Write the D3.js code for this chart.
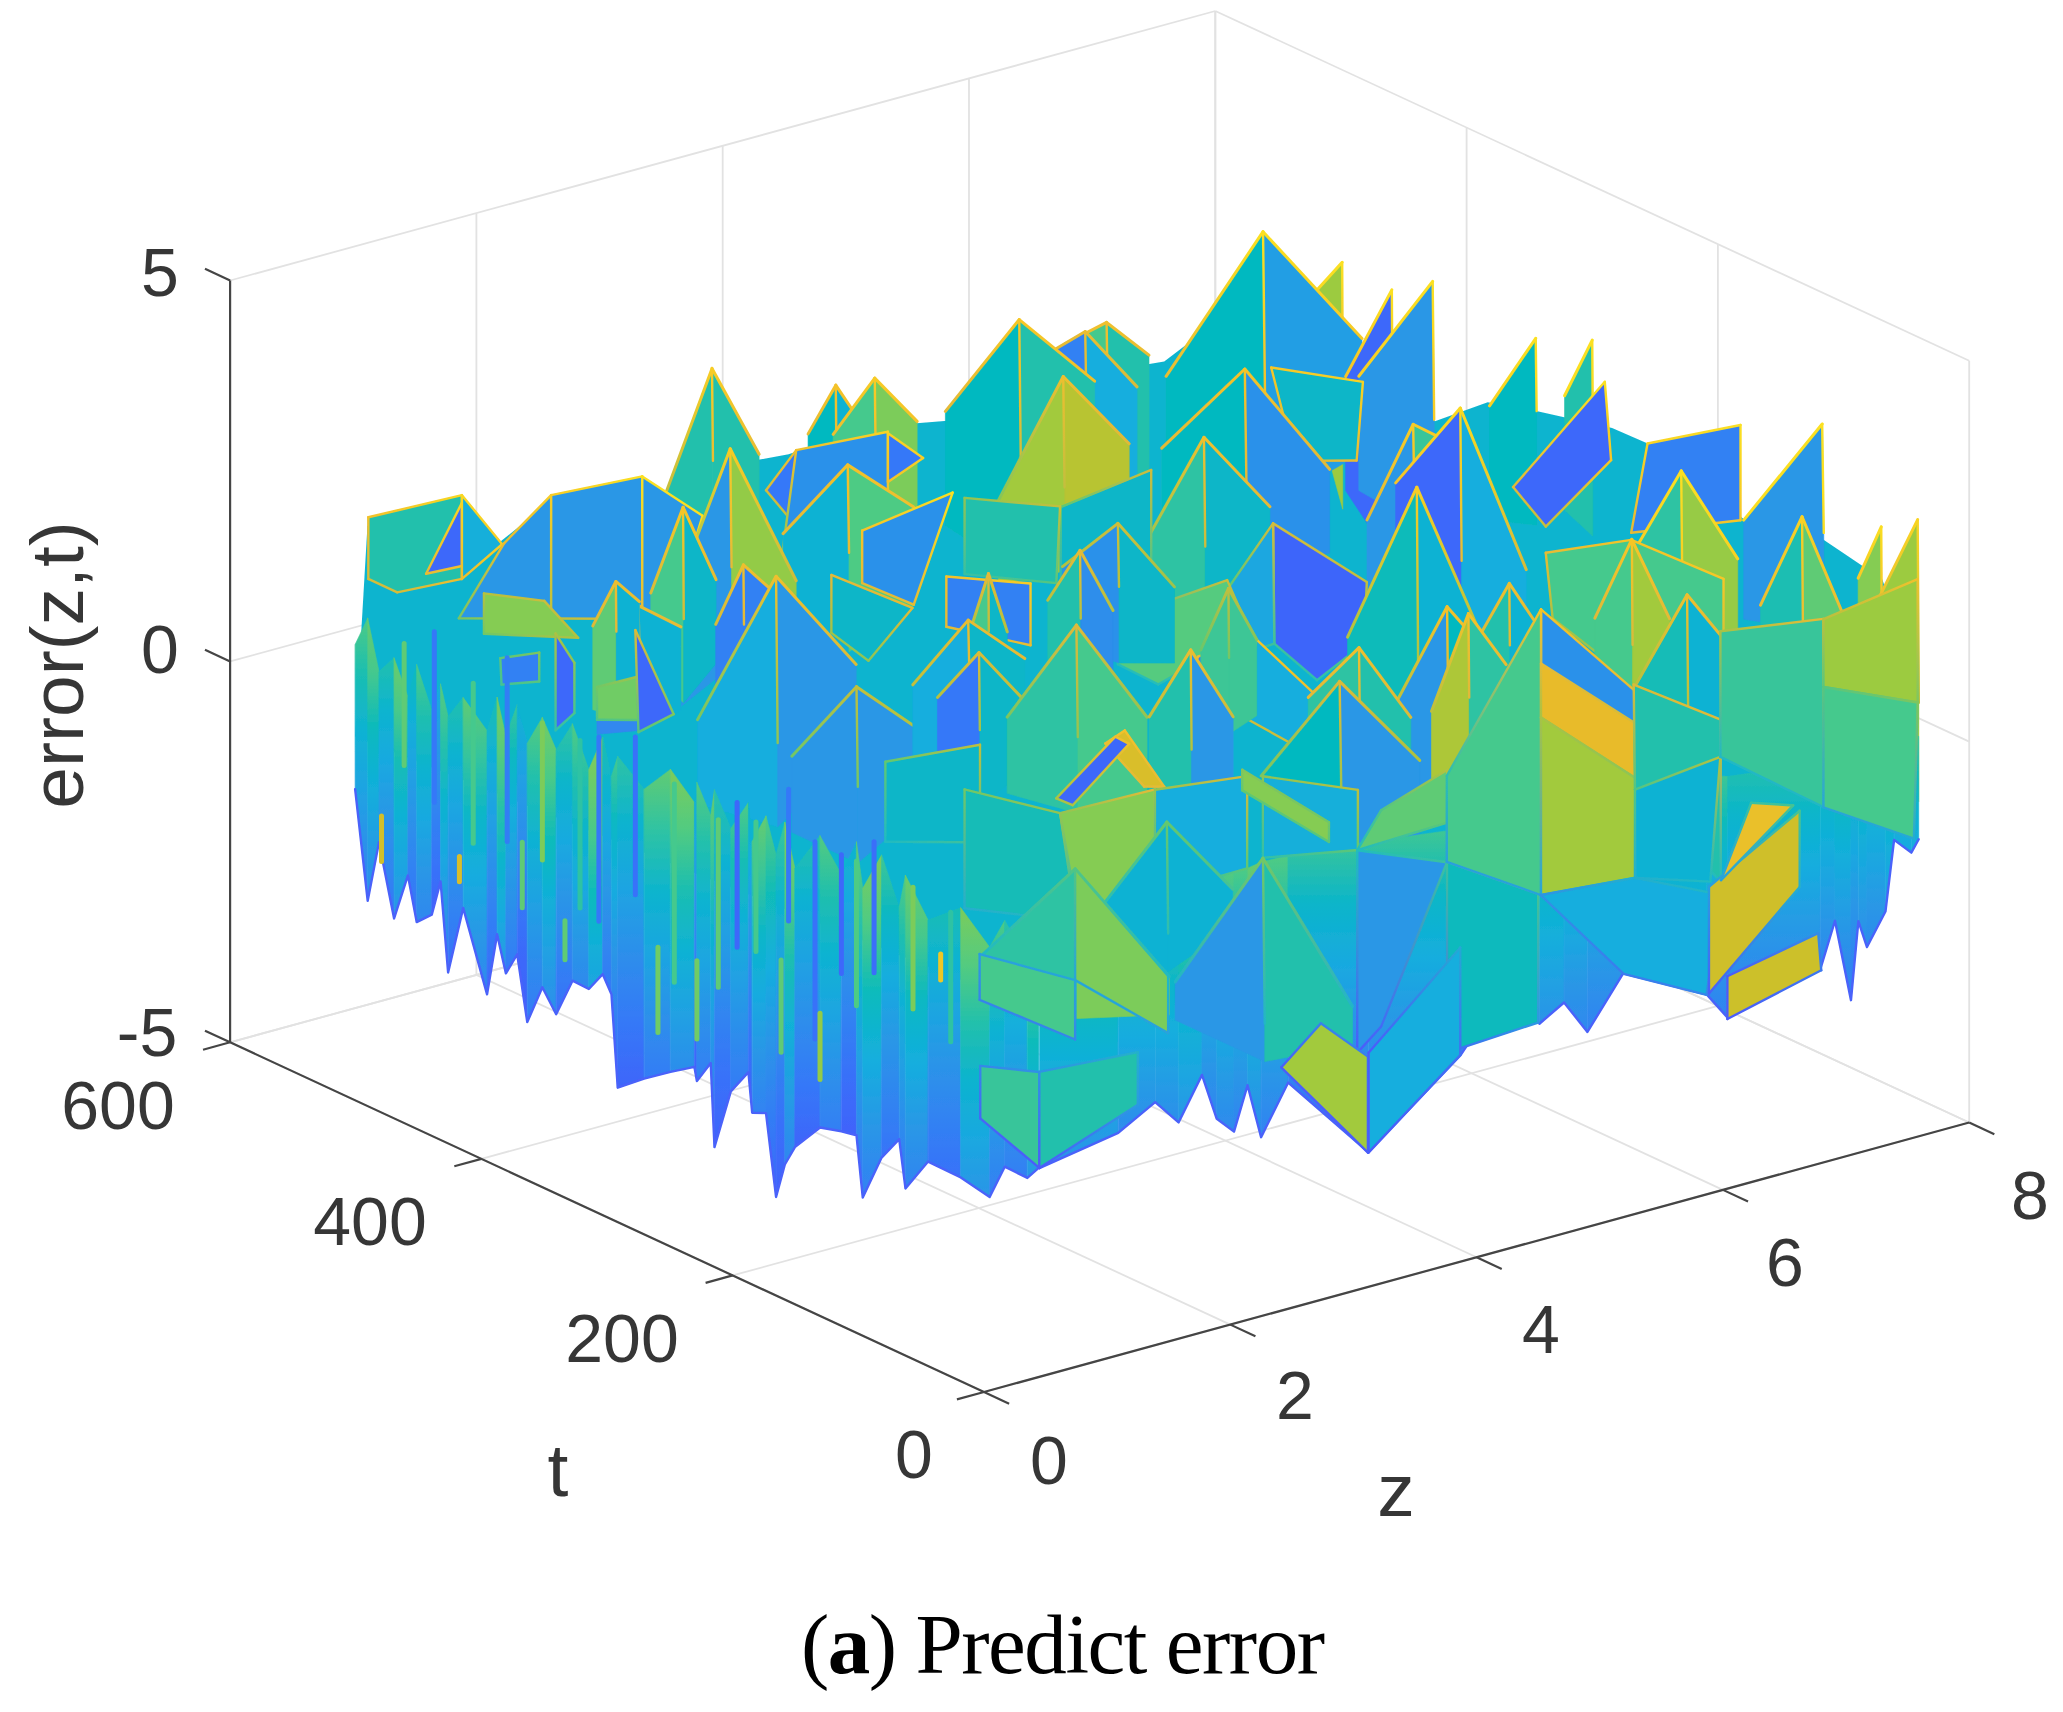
<!DOCTYPE html>
<html><head><meta charset="utf-8"><style>html,body{margin:0;background:#fff}svg{display:block}</style>
<script src="https://cdnjs.cloudflare.com/ajax/libs/d3/7.8.5/d3.min.js"></script></head><body><div id="c"></div>
<script>
// axis content
const zTicks=[0,2,4,6,8], tTicks=[0,200,400,600], eTicks=[-5,0,5];
const zLabels=["0","2","4","6","8"], tLabels=["0","200","400","600"], eLabels=["-5","0","5"];
const axisTitles={z:"z",t:"t",e:"error(z,t)"};
// peaks: [z, t, eApex, eLeft, eRight, eFront, span, colourLeft, colourRight] (colour -1: face not visible)
// panels: [z, colour, [t,e, t,e, ...]]
const coreBackLeft=[[.85,1.6],[1.6,1.52],[1.92,.91],[2.35,1.28],[3.1,1.21],[3.47,.7],[4,1.07],[4.27,1.03],[4.91,1.1],[5.56,.9],[6.14,1.5],[6.73,1],[7.32,.9],[7.6,1.12]];
const coreBackRight=[[522,2.72],[449,1.95],[386,1.43],[344,2],[308,2.17],[245,2.42],[198,2.44],[140,2.02],[77,2.24],[30,2.08],[1,.92]];
const rearPeaks=[
[6.75,564,1.74,1.61,1.57,1.46,.45,.5,.42],[6.75,581,1.49,1.28,1.08,1.16,.55,.13,.27],[6,560,2.14,1.2,1.79,1.02,.8,.35,.42],
[7.5,450,3.07,2.77,2.53,1.6,.3,.67,-1],[7.5,513,2.99,1.44,2.19,1.8,1.05,.35,.22],[7.5,410.5,3.01,2.04,1.5,1.39,.5,.05,-1],
[7.5,378,3.37,2.39,2.2,2.28,.8,.2,-1],[7.5,296,3.25,2.53,2.6,2.75,.5,.35,-1],[7.5,251,3.57,2.94,2.7,2.77,.3,.42,-1],
[4.5,559,1.95,1.41,1.57,1.41,.3,.35,.3],[4.5,528,2.28,1.69,1.97,1.77,.45,.5,.6],[3.75,584,2.31,.84,1.47,1.55,.5,.42,.42]];
const rearPanels=[
[7.5,.05,[314,1.16,241,3.10,236,2.11,288,.84]],[7.5,.13,[207,2.55,133,3.36,133,2.11,220,1.28]],
[3.75,.1,[541,1.04,517,1.75,517,.75]],[3.75,.18,[517,1.75,444,2.55,444,1.31,528,.32]],[3.75,.1,[444,2.53,416,2.42,444,1.89]],
[.75,.42,[563.5,1.84,489,2.70,489,1.60,540.5,1.03,563.5,1.03]],[.75,.05,[517.5,1.45,489,2.60,489,1.77]],[.75,.28,[489,2.70,457,2.30,489,1.60]],
[1.5,.2,[529,1.43,491.5,2.35,491.5,.73,565,.17]],[1.5,.2,[491.5,2.35,419,3.15,419,1.28,491.5,.73]],[1.5,.2,[419,3.15,371,3.0,396,1.46,419,1.28]]];
const midPeaks=[
[7.5,68,3.87,2.89,3.0,3.21,.85,.2,-1],[6.75,106.7,3.29,2.25,2.48,2.24,.6,.45,.66],[7.5,21,2.88,2.29,1.9,1.94,.25,.62,-1],
[8,41,2.6,1.33,.8,.74,.6,.67,-1],[7.5,84,2.53,1.52,1.46,1.44,.45,.4,.55],[3.75,476,1.87,1.20,1.72,1.35,.7,.3,.52],[3,496,2.26,.25,.93,1.34,.7,.2,.65]];
const midPanels=[
[6.75,.33,[433,2.15,360,2.52,365,1.45,414,1.07]],[6.75,.5,[214.5,1.39,146.4,2.08,73,2.13,73,.74,141,.22,209,.57]],
[3,.18,[391,1.99,319,3.04,350,1.33,391,1.30]],[1.5,.62,[545,.65,497,.92,470,.64,545,.12]],[1.5,.13,[532,-.1,501,.21,501,-.17,531,-.44]]];
const ridgePeaks=[
[6.75,454,1.97,1.23,1.17,1.23,.9,.35,.18],[6,525,1.66,.27,1.18,.84,.7,.68,.72],[6,413,1.72,.43,1.21,.92,.7,.45,.33],
[6.75,320,2.27,1.18,2.25,1.95,.5,.2,.47],[6.75,282.5,2.77,2.02,1.05,1.40,.7,.05,.27],[2.25,460,2.10,1.09,1.35,.95,.35,.5,.33],
[1.5,422,1.43,.99,1.41,1.30,.45,.15,.3],[1.5,440,1.61,1.11,1.49,1.18,.25,.55,.3],[2.25,412,1.71,1.03,1.55,1.20,.3,.13,.13],[2.25,386,1.76,.16,1.09,.34,.85,.27,.2]];
const ridgePanels=[
[6,.33,[527,-.07,455,.97,455,-.29,527,-1.19]],[5.25,.42,[530,.36,454,.83,457,-.2,530,-.64]],
[6,.04,[358,1.01,283.4,.81,285.5,-.01,323,-.78,357,-.56]],[6,.25,[358,1.01,393,-.09,392,-1.02,357,-.56]],
[5.25,.53,[411,-.33,321,.88,303,.34,376,-.91,408,-.89]],[3,.33,[415.5,1.22,351,1.28,386,.32,415.5,.46]],[3,.13,[324,1.90,257,2.32,257,1.51,324,1.24]],
[1.5,.58,[455,.11,422,.5,422,-.07,455,-.32]],[1.5,.05,[424.5,1.09,394,.22,422,-.23]],[1.5,.05,[488,.56,473,.29,473,-.37,488,-.71]],
[3.75,.12,[197,1.49,151,2.07,163,.95,229,.19]],[3.75,.27,[151,2.07,105,1.71,114,.9,161,.97]]];
const innerPeaks=[
[5.25,408,.96,.59,.47,.67,.6,.18,.33],[4.5,364.6,1.27,.73,.68,.69,.35,.42,.17],[3.75,364,1.3,.61,.65,.72,.2,.5,.33],[5.25,320,.78,.07,.28,.14,.3,.48,.48],
[6,243.6,2.36,.64,.65,.5,.75,.37,.3],[6,170,1.66,1.12,1.28,1.12,.3,.42,.3],[6.75,146,2.09,1.19,1.28,1.07,.4,.5,.68],[6.75,102,1.7,.71,1.19,.68,.55,.38,.3],[5.25,146,1.87,.7,1.37,1.05,.6,.2,.35],
[5.25,129,1.91,.76,1.47,1.17,.4,.7,.45],[2.25,322,.8,.12,.61,.12,.7,.2,.2],[3,306.6,1.46,.81,1.3,1.33,.6,.27,.33],[3,298,1.1,.66,.77,.49,.45,.1,.33],
[3.75,294,1.16,.2,.38,.37,.75,.45,.5],[3.75,203,1.53,.8,.91,.63,.45,.42,.2],[4.5,142.6,1.69,1.22,1.09,1.01,.55,.45,.42],[4.5,158,1.13,.17,.58,.48,.85,.35,.2]];
// front edge curtains
const leftT=[574,564,555,543,532,525,513,506,500,488,469,461,454,445,437,425,414,401,388,377,370,365,344,323,304,302,291,288,275,261,258,247,239,232,224,204,187,175,170,155,141,136,118,92,69,57,39,30];
const leftTop=[.09,.51,-.12,.15,-.28,.2,-.31,.09,-.29,.05,-.24,.26,-.2,.29,-.16,.27,-.07,.37,-.13,.38,-.08,.22,-.05,.37,.08,.36,.01,.37,-.04,.41,-.08,.34,-.11,.37,-.17,.41,.03,.55,-.02,.53,-.05,.41,-.04,.32,-.02,.42,.04,.28];
const leftBottom=[-1.81,-3.2,-2.36,-3.27,-2.62,-3.18,-2.99,-2.5,-3.65,-2.71,-3.7,-2.85,-3.31,-2.99,-3.82,-3.27,-3.54,-3,-3.01,-2.73,-2.94,-4.13,-3.85,-3.6,-3.39,-3.56,-3.24,-4.32,-3.49,-3.13,-3.64,-3.56,-4.6,-4.12,-3.83,-3.42,-3.34,-3.3,-4.08,-3.44,-3.09,-3.7,-3.21,-3.22,-3.3,-2.81,-2.82,-2.62];
const leftShift=[0,.5,-.3,.9,-.6,.3,-1.4,.6,-.2,.8,-.5,1.1,-.1,-1.2,.4,.9,-.3,.2,1.3,-.6,.1,-.2,.5,1,-1.2,.3,.7,-.4,.1,-1,.6,.3,-.2,1.2,-.5,.2,-1.3,.4,.9,-.3,.2,.7,-.6,1,.1,-.4,.6,.1];
// thin streaks on the left curtain: [t, eTop, eBottom, colour]
const streaks=[[511,.74,-1.5,.1],[453,.84,-1.57,.12],[380,.36,-2.06,.1],[351,.58,-1.49,.08],[270,.34,-1.56,.05],[229,.83,-.9,.1],[208,.3,-2.29,.08],[187,.29,-1.27,.05],[161,.66,-1.06,.07],
[553,-2,-2.6,.78],[491,-2.06,-2.39,.8],[441,-1.49,-2.35,.55],[407,-2.26,-2.77,.55],[333,-2.04,-3.16,.58],[302,-1.98,-3.01,.58],[235,-1.46,-2.67,.55],[204,-1.92,-2.79,.65],[108,-.41,-.75,.9],
[535,.4,-1.2,.55],[480,.3,-1.8,.5],[425,.2,-1.6,.6],[395,.2,-2,.45],[320,.2,-2.4,.5],[285,0,-2.2,.55],[255,.2,-1.5,.5],[175,.3,-1.6,.52],[130,.3,-1.3,.6],[100,.2,-1.5,.45]];
const rightZ=[.45,1.09,1.39,1.58,1.77,1.89,2.03,2.14,2.25,2.47,3.12,3.87,4.24,4.51,4.71,4.9,5.19,5.87,6.04,6.79,6.91,7.04,7.1,7.17,7.32,7.39,7.53,7.59];
const rightTop=[.98,1.05,.92,.83,.92,.86,.98,.93,.96,.95,.84,.68,.69,.57,.65,.57,.61,.49,.41,.25,.29,.23,.29,.26,.28,.33,.27,.25];
const rightBottom=[-2.26,-2.08,-1.81,-2.16,-1.62,-2.25,-2.48,-1.92,-2.65,-2.03,-3.23,-2.29,-1.55,-2.16,-1.97,-2.44,-1.8,-2.38,-2.76,-2.46,-1.87,-2.97,-1.96,-2.33,-1.93,-1.02,-1.25,-1.1];
const rightShift=[-.2,-.6,-.4,-.1,-.7,-.3,-.5,0,-.4,-.8,-.6,-.3,-.5,-.2,-.4,-.6,-.1,-.3,-.5,-.4,-.2,-.5,-.3,-.4,-.1,-.3,-.2,-.4];
const frontPanels=[
[2.25,.33,[299,-.01,223.7,.79,223.7,-.49,299,-1.06]],[2.25,.8,[108.5,1.86,77,1.36,93,1.24,124,1.57]],[2.25,.05,[163,.55,116,1.72,105,1.71,150,.56]],
[2.25,.38,[236,.11,160,.38,147,-.94,236,-1.45]],[2.25,.62,[160,.38,84.4,1.27,84.4,-.11,145,-.92]],[3,.27,[158,.37,84.6,1.11,84.6,-.1,158,-1.01]],
[3.75,.28,[145.6,.31,70,.71,70,-.08,145.6,-.76]],[3.75,.62,[162,.27,93,.11,93,-.15,162,0]],[4.5,.55,[125,-.31,72.5,.62,72.5,-.07,144,-.98]],[4.5,.2,[144,-.98,72.5,-.59,125,-3.15,144,-3.64]],
[4.5,.36,[72.5,-.59,0,-.45,0,-2.14,72.5,-3.09]],
[5.625,.18,[108,1.96,33,1.46,33,.89,108,1.23]],[5.625,.5,[183,-.8,108,1.96,108,-1.79,183,-1.93]],[5.625,.85,[108,1.25,34,1.04,33,.32,108,.54]],[5.625,.68,[108,.54,33,.32,33,-.99,108,-1.79]],
[6,.42,[71,1.09,1.7,1.16,1.7,-.97,70,-.28]],[6,.3,[70,-.28,2,.67,10,-1.03,70,-1.44]],[6,.27,[70,-1.44,2,-1.14,13,-2.54,79,-2.77,145,-2.24]],
[7.5,.47,[149,.53,67,1.32,67,-1.15,149,-1.12]],[8,.67,[116,.72,41,1.82,41,.2,116,-.17]],[8,.5,[116,-.17,41,.2,44,-1.61,116,-1.75]],
[6.75,.77,[84.6,-2,12.4,-.45,12.4,-1.45,84.6,-3.4]],[6.75,.87,[75,-1.84,51,-.64,17.6,-.42]],[7.125,.76,[106.7,-3.51,34.4,-2.39,32,-2.86,106.7,-4.07]]];
const frontPeaks=[[3,148.5,.02,-.85,-.46,-.81,.7,.3,.3],[2.25,148,-.26,-1.05,-1.1,-.82,1,.45,.6],[3,72,.13,-1.18,-1.27,-1.18,.95,.2,.42]];
const footPanels=[
[2.25,.5,[224,-1.96,148,-1.72,148,-2.5,224,-2.56]],[2.25,.6,[148,-.26,74,-1.10,74,-1.85,148,-1.72]],
[3.75,.68,[131,-3.4,99.5,-2.58,62,-2.73,62,-3.99]],[4.5,.27,[135,-3.57,62,-1.63,62,-3.04,135,-4.88]],
[1.5,.47,[150,-2.53,103,-2.25,103,-3.51,150,-3.22]],[1.5,.42,[103,-2.25,24.6,-1.39,24.6,-2.08,103,-3.51]]];
const skirtDepth={rear:1.5,mid:1.3,ridge:1.1,inner:1,front:.5};

// scales
const W=2063,H=1712,origin=[984,1392];
const zX=d3.scaleLinear([0,8],[0,985.2]),zY=d3.scaleLinear([0,8],[0,-269.5]);
const tX=d3.scaleLinear([0,600],[0,-753.9]),tY=d3.scaleLinear([0,600],[0,-349.7]);
const eY=d3.scaleLinear([-5,5],[0,-761.8]);
const P=(z,t,e)=>[origin[0]+zX(z)+tX(t),origin[1]+zY(z)+tY(t)+eY(e)];
const parula=d3.scaleLinear()
 .domain([0,.1,.2,.27,.35,.45,.52,.6,.67,.75,.85,1])
 .range(["#4458fc","#3578f8","#2a97e6","#14aede","#06b9c0","#2fc3a3","#4ecb84","#7ccc5a","#9ccb40","#c9c02a","#e8bb2a","#f9e020"]).clamp(true);
const heightC=d3.scaleLinear([-4.5,-3.5,-2.2,-.6,.3,2],[.03,.1,.2,.33,.5,.66]).clamp(true);
const edgeC=d3.scaleLinear([-3.5,-2,-1,0,.6,1.2,2,3],["#4a5cfb","#2a9de0","#20bcc0","#62c870","#b0c240","#e2b938","#f5c328","#fbe020"]).clamp(true);
const line=d3.line();

const svg=d3.select("#c").append("svg").attr("width",W).attr("height",H).attr("viewBox",[0,0,W,H]);
const defs=svg.append("defs");
defs.append("filter").attr("id","soft").attr("x","-5%").attr("y","-5%").attr("width","110%").attr("height","110%")
 .append("feGaussianBlur").attr("stdDeviation",.7);
let gid=0;
function grad(p,q,stops){
  const id="g"+(gid++);
  const g=defs.append("linearGradient").attr("id",id).attr("gradientUnits","userSpaceOnUse")
   .attr("x1",p[0]).attr("y1",p[1]).attr("x2",q[0]).attr("y2",q[1]);
  stops.forEach(s=>g.append("stop").attr("offset",s[0]).attr("stop-color",s[1]));
  return `url(#${id})`;
}
// grid and box
const grid=svg.append("g").attr("fill","none").attr("stroke","#e2e2e2").attr("stroke-width",1.8);
const seg=(a,b,g=grid)=>g.append("line").attr("x1",a[0]).attr("y1",a[1]).attr("x2",b[0]).attr("y2",b[1]);
zTicks.forEach(z=>{seg(P(z,0,-5),P(z,600,-5));seg(P(z,600,-5),P(z,600,5));});
tTicks.forEach(t=>{seg(P(0,t,-5),P(8,t,-5));seg(P(8,t,-5),P(8,t,5));});
eTicks.forEach(e=>{seg(P(0,600,e),P(8,600,e));seg(P(8,600,e),P(8,0,e));});
// axes
const ax=svg.append("g").attr("stroke","#454545").attr("stroke-width",2.2).attr("fill","none");
seg(P(0,600,-5),P(0,600,5),ax);seg(P(0,0,-5),P(0,600,-5),ax);seg(P(0,0,-5),P(8,0,-5),ax);
zTicks.forEach(z=>seg(P(z,0,-5),P(z,-20,-5),ax));
tTicks.forEach(t=>seg(P(0,t,-5),P(-.22,t,-5),ax));
eTicks.forEach(e=>seg(P(0,600,e),P(0,620,e),ax));

const surface=svg.append("g").attr("stroke-linecap","round").attr("stroke-linejoin","round").attr("filter","url(#soft)");
function edge(a,b,wd){
  const p=P(...a),q=P(...b);
  surface.append("line").attr("x1",p[0]).attr("y1",p[1]).attr("x2",q[0]+.01).attr("y2",q[1]+.01)
   .attr("stroke",grad(p,q,[[0,edgeC(a[2])],[1,edgeC(b[2])]])).attr("stroke-width",wd);
}
function face(vs,c){surface.append("path").attr("d",line(vs.map(v=>P(...v)))+"Z").attr("fill",parula(c)).attr("stroke",parula(c)).attr("stroke-width",.6);}
function peaks(rows,skirt){rows.forEach(([z,t,ea,el,er,ef,w,cl,cr])=>{
  const A=[z,t,ea],L=[z-.75*w,t,el],R=[z,t-75*w,er],F=[z-.75*w,t-75*w,ef];
  const dn=v=>[v[0],v[1],v[2]-skirt];
  if(cl>=0)face([A,L,dn(L),dn(F),F],cl); if(cr>=0)face([A,R,dn(R),dn(F),F],cr);
  if(cl>=0)edge(A,L,3); if(cr>=0)edge(A,R,3); edge(A,F,2.4);
});}
function panels(rows){rows.forEach(([z,c,flat])=>{
  const vs=d3.range(0,flat.length,2).map(i=>[z,flat[i],flat[i+1]]);
  face(vs,c); vs.forEach((v,i)=>edge(v,vs[(i+1)%vs.length],2.4));
});}
function curtain(top,bottom,shift){
  for(let i=0;i<top.length-1;i++){
    const a=top[i],b=top[i+1],c=bottom[i+1],d=bottom[i];
    const pa=P(...a),pb=P(...b),pc=P(...c),pd=P(...d);
    const y1=Math.min(pa[1],pb[1]),y2=Math.max(pc[1],pd[1]);
    const e1=Math.max(a[2],b[2]),e2=Math.min(c[2],d[2]);
    const stops=d3.range(0,1.01,.2).map(f=>[f,parula(heightC(e1+(e2-e1)*f+shift[i]))]);
    surface.append("path").attr("d",line([pa,pb,pc,pd])+"Z").attr("fill",grad([0,y1],[0,y2],stops))
     .attr("stroke",grad([0,y1],[0,y2],stops)).attr("stroke-width",.6);
  }
  surface.append("path").attr("d",line(bottom.map(v=>P(...v)))).attr("fill","none").attr("stroke","#4a62fa").attr("stroke-width",2.4);
}
// body behind the facets
const coreTop=[...coreBackLeft.map(([z,e])=>[z,574,e]),...coreBackRight.map(([t,e])=>[7.6,t,e])];
const coreBase=[[7.6,1,.06],[.75,0,-.53],[.75,574,-1.12]];
surface.append("path").attr("d",line([...coreTop,...coreBase].map(v=>P(...v)))+"Z").attr("fill",parula(.31));

peaks(rearPeaks,skirtDepth.rear);panels(rearPanels);peaks(midPeaks,skirtDepth.mid);panels(midPanels);peaks(ridgePeaks,skirtDepth.ridge);panels(ridgePanels);peaks(innerPeaks,skirtDepth.inner);
curtain(leftT.map((t,i)=>[.75,t,leftTop[i]]),leftT.map((t,i)=>[.75,t,leftBottom[i]]),leftShift);
streaks.forEach(([t,e1,e2,c])=>{const p=P(.75,t,e1),q=P(.75,t,e2);
  surface.append("line").attr("x1",p[0]).attr("y1",p[1]).attr("x2",q[0]).attr("y2",q[1]).attr("stroke",parula(c)).attr("stroke-width",5);});
curtain(rightZ.map((z,i)=>[z,0,rightTop[i]]),rightZ.map((z,i)=>[z,0,rightBottom[i]]),rightShift);
panels(frontPanels);peaks(frontPeaks,skirtDepth.front);panels(footPanels);

// text
const txt=svg.append("g").attr("font-family","'Liberation Sans',Arial,sans-serif").attr("fill","#363636").attr("font-size",68).attr("text-anchor","middle").attr("dominant-baseline","central");
const label=(s,x,y,o={})=>{const n=txt.append("text").attr("x",x).attr("y",y).text(s);Object.entries(o).forEach(([k,v])=>n.attr(k,v));return n;};
const eSpots=[[147,1032],[160,649],[160,272]],tSpots=[[914,1454],[622,1338],[370,1221],[118,1105]],zSpots=[[1049,1460],[1295,1395],[1541,1329],[1785,1262],[2030,1195]];
eLabels.forEach((s,i)=>label(s,...eSpots[i]));tLabels.forEach((s,i)=>label(s,...tSpots[i]));zLabels.forEach((s,i)=>label(s,...zSpots[i]));
label(axisTitles.t,558,1470,{"font-size":75});label(axisTitles.z,1396,1490,{"font-size":75});
label(axisTitles.e,57,665,{"font-size":75,transform:"rotate(-90 57 665)"});
const cap=svg.append("text").attr("x",1063).attr("y",1673).attr("text-anchor","middle").attr("font-family","'Liberation Serif','Times New Roman',serif").attr("font-size",85).attr("fill","#000").attr("textLength",524);
cap.append("tspan").text("(");cap.append("tspan").attr("font-weight","bold").text("a");cap.append("tspan").text(") Predict error");
</script></body></html>
